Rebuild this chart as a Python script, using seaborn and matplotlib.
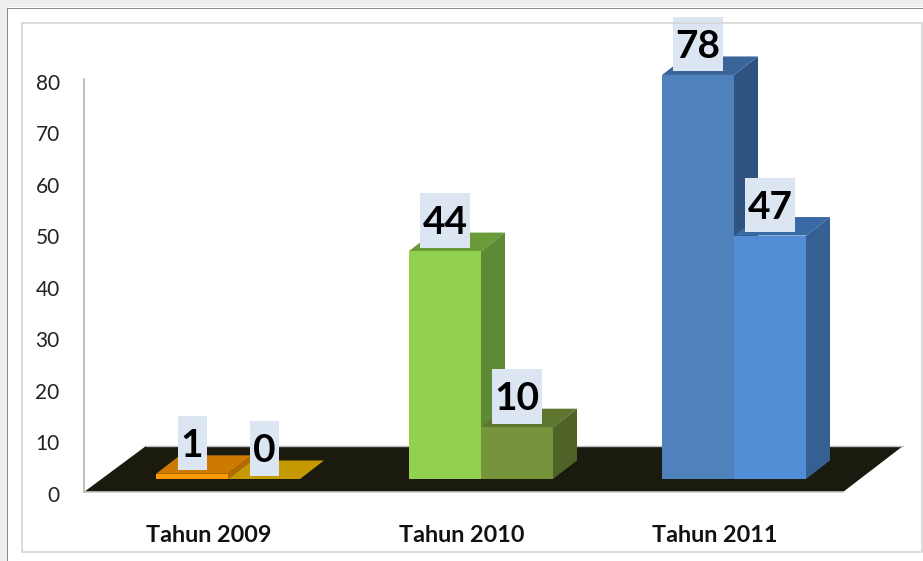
import pandas as pd
import seaborn as sns
import matplotlib.pyplot as plt
from matplotlib.patches import Rectangle
from matplotlib.transforms import ScaledTranslation

# ---- data ----
years = ['Tahun 2009', 'Tahun 2010', 'Tahun 2011']
series_a = [1, 44, 78]
series_b = [0, 10, 47]
y_ticks = [0, 10, 20, 30, 40, 50, 60, 70, 80]

# colours per bar: series a then series b, one per year
front_a = ['#FF9900', '#92D050', '#4F81BD']
front_b = ['#C49A00', '#77933C', '#538DD5']
side_a = ['#B36B00', '#5F8A35', '#2F5380']
side_b = ['#8F7000', '#4F6228', '#366092']
top_a = ['#CC7A00', '#6A9A3A', '#3A659B']
top_b = ['#C49A00', '#5E7530', '#3A6AA5']

W, H = 923, 561
PX_X = 253.0    # pixels per category
PX_Y = 5.18     # pixels per value
DX = 24 / PX_X  # bar depth
DY = 18.5 / PX_Y
FLOOR = 13 / PX_Y  # wall zero sits below the bar baseline

df = pd.DataFrame({
    'year': years * 2,
    'series': ['a'] * 3 + ['b'] * 3,
    'value': series_a + series_b,
})

sns.set_style('white')
plt.rcParams['font.family'] = ['Lato', 'DejaVu Sans']

fig = plt.figure(figsize=(W / 100, H / 100), dpi=100, facecolor='white')
ax = fig.add_axes([84 / W, (H - 492) / H, (843 - 84) / W, (492 - 79) / H])
ax.patch.set_alpha(0)

sns.barplot(data=df, x='year', y='value', hue='series', width=144 / PX_X,
            gap=0, legend=False, ax=ax, saturation=1, zorder=3)

x0 = -(228 - 84) / PX_X
ax.set_xlim(x0, x0 + (843 - 84) / PX_X)
ax.set_ylim(-FLOOR, (492 - 79) / PX_Y - FLOOR)

# floor of the 3d chart
bx = 62 / PX_X
by = 46 / PX_Y
x1 = ax.get_xlim()[1]
ax.fill([x0, x0 + bx, x1 + 60 / PX_X, x1], [-FLOOR, by - FLOOR, by - FLOOR, -FLOOR],
        color='#1A1A0E', zorder=1, clip_on=False, lw=0)
ax.plot([x0 + bx, x1 + 60 / PX_X], [by - FLOOR, by - FLOOR], color='#BDBDBD', lw=1,
        zorder=1, clip_on=False)

fronts = [front_a, front_b]
sides = [side_a, side_b]
tops = [top_a, top_b]
for s, bars in enumerate(ax.containers):
    for i, bar in enumerate(bars):
        bar.set_facecolor(fronts[s][i])
        bar.set_edgecolor('none')
        bar.set_clip_on(False)
        bar.set_zorder(3.5)
        left = bar.get_x()
        right = left + bar.get_width()
        h = bar.get_height()
        # back faces first, the second bar's front covers the first bar's side
        z = 3 + s * 0.1
        ax.fill([right, right + DX, right + DX, right], [0, DY, h + DY, h],
                color=sides[s][i], lw=0, zorder=z, clip_on=False)
        ax.fill([left, left + DX, right + DX, right], [h, h + DY, h + DY, h],
                color=tops[s][i], lw=0, zorder=z, clip_on=False)

        # value label on its pale box
        label = str(int(h))
        bw = (50 if len(label) > 1 else 29) / PX_X
        bh = 54.5 / PX_Y
        cx = left + bar.get_width() / 2
        ybox = h + 3.5 / PX_Y
        ax.add_patch(Rectangle((cx - bw / 2, ybox), bw, bh, facecolor='#DCE6F2',
                               edgecolor='none', zorder=6, clip_on=False))
        ax.text(cx, ybox + bh / 2 - 2.5 / PX_Y, label, ha='center', va='center',
                fontsize=28, fontweight='bold', color='black', zorder=7, clip_on=False)

# axes, ticks and labels
ax.set_yticks([t * 5.15 / PX_Y - FLOOR for t in y_ticks])
ax.set_yticklabels(y_ticks, fontsize=15, color='#222222')
ax.set_xticks([i - 19.5 / PX_X for i in range(len(years))])
ax.set_xticklabels(years, fontsize=16.8, fontweight='bold', color='#111111')
ax.tick_params(axis='y', length=0, pad=17.5)
ax.tick_params(axis='x', length=0, pad=24)
ax.set_xlabel('')
ax.set_ylabel('')
down = ScaledTranslation(0, -1.4 / 72, fig.dpi_scale_trans)
for lab in ax.get_yticklabels():
    lab.set_transform(lab.get_transform() + down)

sns.despine(ax=ax, top=True, right=True)
ax.spines['left'].set_color('#B5B5B5')
ax.spines['left'].set_linewidth(1.2)
ax.spines['bottom'].set_color('#C8C8C8')
ax.spines['bottom'].set_linewidth(1.2)
ax.spines['bottom'].set_zorder(2)

# slide frame around the chart
def frame(x, y, w, h, **kw):
    fig.add_artist(Rectangle((x / W, 1 - (y + h) / H), w / W, h / H,
                             transform=fig.transFigure, **kw))

frame(0, 0, W, 7, facecolor='#EFEFEF', edgecolor='none')
frame(0, 0, 7, H, facecolor='#EFEFEF', edgecolor='none')
frame(7, 8, W, 0.8, facecolor='#8C8C8C', edgecolor='none')
frame(7, 8, 0.8, H, facecolor='#8C8C8C', edgecolor='none')
frame(22, 23, 900, 529, facecolor='none', edgecolor='#D4D4D4', linewidth=1.2)

fig.savefig('out.png', dpi=100)
